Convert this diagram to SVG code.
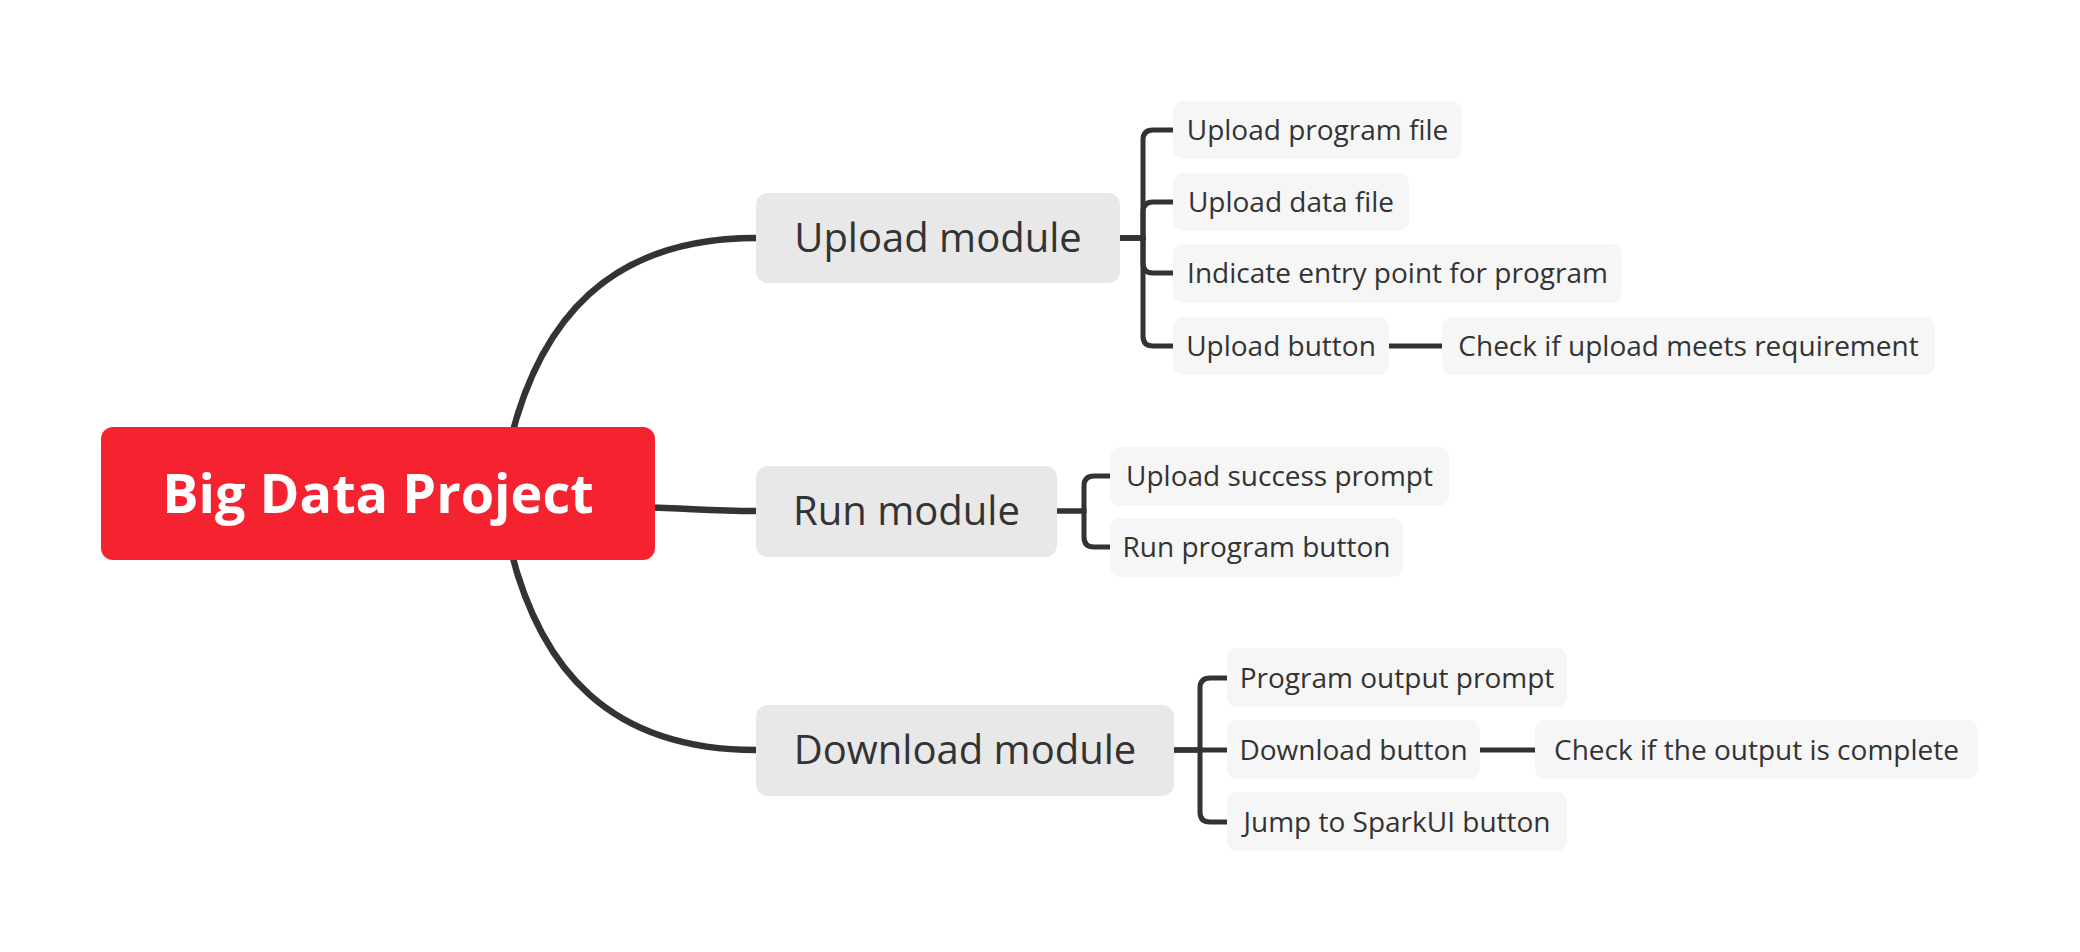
<svg xmlns="http://www.w3.org/2000/svg" width="2080" height="952" viewBox="0 0 2080 952">
<style>
.bg{fill:#ffffff}
.root rect{fill:#f5222f}
.root text{fill:#ffffff;font-family:"Open Sans","Noto Sans",sans-serif;font-weight:700;font-size:54px;text-anchor:middle}
.mod rect{fill:#e8e8e8}
.mod text{fill:#333333;font-family:"Open Sans","Noto Sans",sans-serif;font-size:40px;text-anchor:middle}
.leaf rect{fill:#f6f6f6}
.leaf text{fill:#333333;font-family:"Open Sans","Noto Sans",sans-serif;font-size:28px;text-anchor:middle}
.main{fill:none;stroke:#333333;stroke-width:6.5;stroke-linecap:round}
.sub{fill:none;stroke:#333333;stroke-width:5}
</style>
<rect class="bg" x="0" y="0" width="2080" height="952"/>
<g id="connectors">
<path class="main" d="M510,442 C540,319 610,238 756,238"/>
<path class="main" d="M640,507 C700,509 710,511 756,511"/>
<path class="main" d="M510,547 C540,670 610,750 756,750"/>
<path class="sub" d="M1120,238 H1143 V140 Q1143,130 1153,130 H1173"/>
<path class="sub" d="M1120,238 H1143 V212 Q1143,202 1153,202 H1173"/>
<path class="sub" d="M1120,238 H1143 V263 Q1143,273 1153,273 H1173"/>
<path class="sub" d="M1120,238 H1143 V336 Q1143,346 1153,346 H1173"/>
<path class="sub" d="M1389,346 H1442"/>
<path class="sub" d="M1057,511 H1084 V486 Q1084,476 1094,476 H1110"/>
<path class="sub" d="M1057,511 H1084 V537 Q1084,547 1094,547 H1110"/>
<path class="sub" d="M1174,750 H1200 V688 Q1200,678 1210,678 H1227"/>
<path class="sub" d="M1174,750 H1227"/>
<path class="sub" d="M1174,750 H1200 V812 Q1200,822 1210,822 H1227"/>
<path class="sub" d="M1480,750 H1535"/>
</g>
<g id="root" class="root">
<rect x="101" y="427" width="554" height="133" rx="12"/>
<text x="378" y="513">Big Data Project</text>
</g>
<g id="upload-module" class="mod">
<rect x="756" y="193" width="364" height="90" rx="12"/>
<text x="938" y="252">Upload module</text>
</g>
<g id="run-module" class="mod">
<rect x="756" y="466" width="301" height="91" rx="12"/>
<text x="906.5" y="525">Run module</text>
</g>
<g id="download-module" class="mod">
<rect x="756" y="705" width="418" height="91" rx="12"/>
<text x="965" y="764">Download module</text>
</g>
<g id="upload-program-file" class="leaf">
<rect x="1173" y="101" width="289" height="58" rx="10"/>
<text x="1317.5" y="140">Upload program file</text>
</g>
<g id="upload-data-file" class="leaf">
<rect x="1173" y="173" width="236" height="58" rx="10"/>
<text x="1291" y="212">Upload data file</text>
</g>
<g id="indicate-entry-point" class="leaf">
<rect x="1173" y="244" width="449" height="59" rx="10"/>
<text x="1397.5" y="283">Indicate entry point for program</text>
</g>
<g id="upload-button" class="leaf">
<rect x="1173" y="317" width="216" height="58" rx="10"/>
<text x="1281" y="356">Upload button</text>
</g>
<g id="check-upload" class="leaf">
<rect x="1442" y="317" width="493" height="58" rx="10"/>
<text x="1688.5" y="356">Check if upload meets requirement</text>
</g>
<g id="upload-success-prompt" class="leaf">
<rect x="1110" y="447" width="339" height="59" rx="10"/>
<text x="1279.5" y="486">Upload success prompt</text>
</g>
<g id="run-program-button" class="leaf">
<rect x="1110" y="518" width="293" height="59" rx="10"/>
<text x="1256.5" y="557">Run program button</text>
</g>
<g id="program-output-prompt" class="leaf">
<rect x="1227" y="648" width="340" height="59" rx="10"/>
<text x="1397" y="688">Program output prompt</text>
</g>
<g id="download-button" class="leaf">
<rect x="1227" y="720" width="253" height="59" rx="10"/>
<text x="1353.5" y="760">Download button</text>
</g>
<g id="jump-sparkui-button" class="leaf">
<rect x="1227" y="792" width="340" height="59" rx="10"/>
<text x="1397" y="832">Jump to SparkUI button</text>
</g>
<g id="check-output" class="leaf">
<rect x="1535" y="720" width="443" height="59" rx="10"/>
<text x="1756.5" y="760">Check if the output is complete</text>
</g>
</svg>
